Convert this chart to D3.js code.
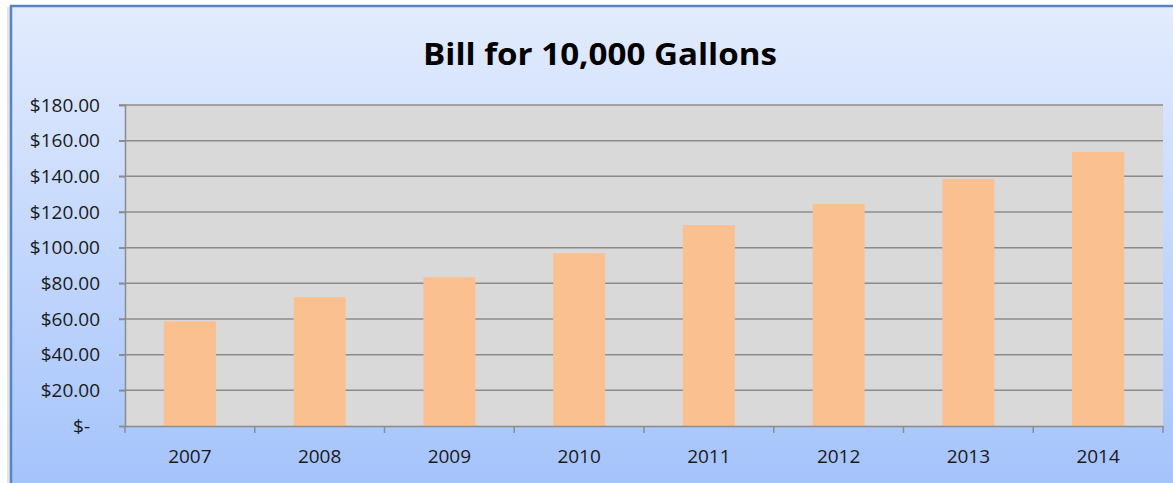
<!DOCTYPE html>
<html lang="en">
<head>
<meta charset="UTF-8">
<title>Bill for 10,000 Gallons</title>
<script src="https://d3js.org/d3.v7.min.js"></script>
<style>
    body { margin: 0; background: #fff; }
    text { font-family: "Open Sans", sans-serif; fill: #1a1a1a; }
</style>
</head>
<body>
<svg width="1173" height="483"></svg>
<script>
    // data
    const years = ["2007", "2008", "2009", "2010", "2011", "2012", "2013", "2014"];
    const bills = [58.7, 72.2, 83.4, 96.9, 112.7, 124.5, 138.5, 153.7];
    const yTicks = [0, 20, 40, 60, 80, 100, 120, 140, 160, 180];

    const svg = d3.select("svg");
    const W = 1173, H = 483;
    const plot = {left: 125, right: 1163, top: 105, bottom: 426};

    // background gradient
    const grad = svg.append("defs").append("linearGradient")
        .attr("id", "bg").attr("x1", 0).attr("y1", 0).attr("x2", 0).attr("y2", 1);
    grad.append("stop").attr("offset", "0%").attr("stop-color", "#e3ecfd");
    grad.append("stop").attr("offset", "100%").attr("stop-color", "#a3c2fb");

    // little shadow left of frame
    svg.append("rect").attr("x", 7).attr("y", 7).attr("width", 3).attr("height", H)
        .attr("fill", "#e4e4e4");
    svg.append("rect")
        .attr("x", 11).attr("y", 6).attr("width", W + 10).attr("height", H + 10)
        .attr("fill", "url(#bg)")
        .attr("stroke", "#5584c8").attr("stroke-width", 2.5);

    svg.append("text")
        .attr("x", 600).attr("y", 65)
        .attr("text-anchor", "middle")
        .attr("font-size", 30).attr("font-weight", "bold")
        .attr("textLength", 354).attr("lengthAdjust", "spacingAndGlyphs")
        .style("fill", "#000")
        .text("Bill for 10,000 Gallons");

    const x = d3.scaleBand().domain(years).range([plot.left, plot.right]);
    const y = d3.scaleLinear().domain([0, 180]).range([plot.bottom, plot.top]);

    svg.append("rect")
        .attr("x", plot.left).attr("y", plot.top)
        .attr("width", plot.right - plot.left).attr("height", plot.bottom - plot.top)
        .attr("fill", "#d9d9d9");

    // gridlines
    svg.append("g").selectAll("line").data(yTicks.slice(1)).join("line")
        .attr("x1", plot.left - 6).attr("x2", plot.right)
        .attr("y1", d => y(d)).attr("y2", d => y(d))
        .attr("stroke", "#8c8c8c").attr("stroke-width", 1.5);

    // bars
    const barW = 52;
    svg.append("g").selectAll("rect").data(bills).join("rect")
        .attr("x", (d, i) => x(years[i]) + x.bandwidth() / 2 - barW / 2)
        .attr("y", d => y(d))
        .attr("width", barW)
        .attr("height", d => y(0) - y(d))
        .attr("fill", "#fac090");

    // y axis
    const fmt = d => d === 0 ? "$-" : "$" + d3.format(".2f")(d);
    const yAxis = svg.append("g")
        .attr("transform", `translate(${plot.left},0)`)
        .call(d3.axisLeft(y).tickValues(yTicks).tickFormat(fmt).tickSize(6).tickPadding(19));
    yAxis.select(".domain").attr("stroke", "#8c8c8c").attr("stroke-width", 1.5);
    yAxis.selectAll(".tick line").attr("stroke", "#8c8c8c").attr("stroke-width", 1.5);
    yAxis.selectAll(".tick text").attr("font-size", 19)
        .attr("font-family", "Open Sans, sans-serif").style("fill", "#1a1a1a")
        .attr("dx", d => d === 0 ? -10 : 0);

    // x axis
    const xAxis = svg.append("g")
        .attr("transform", `translate(0,${plot.bottom})`)
        .call(d3.axisBottom(x).tickSize(0).tickPadding(24));
    xAxis.select(".domain").attr("stroke", "#8c8c8c").attr("stroke-width", 1.5);
    xAxis.selectAll(".tick text").attr("font-size", 19)
        .attr("font-family", "Open Sans, sans-serif").style("fill", "#1a1a1a");
    // category boundary ticks
    xAxis.append("g").selectAll("line").data(years.concat(["end"])).join("line")
        .attr("x1", (d, i) => plot.left + i * x.bandwidth())
        .attr("x2", (d, i) => plot.left + i * x.bandwidth())
        .attr("y1", 0).attr("y2", 7)
        .attr("stroke", "#8c8c8c").attr("stroke-width", 1.5);
</script>
</body>
</html>
